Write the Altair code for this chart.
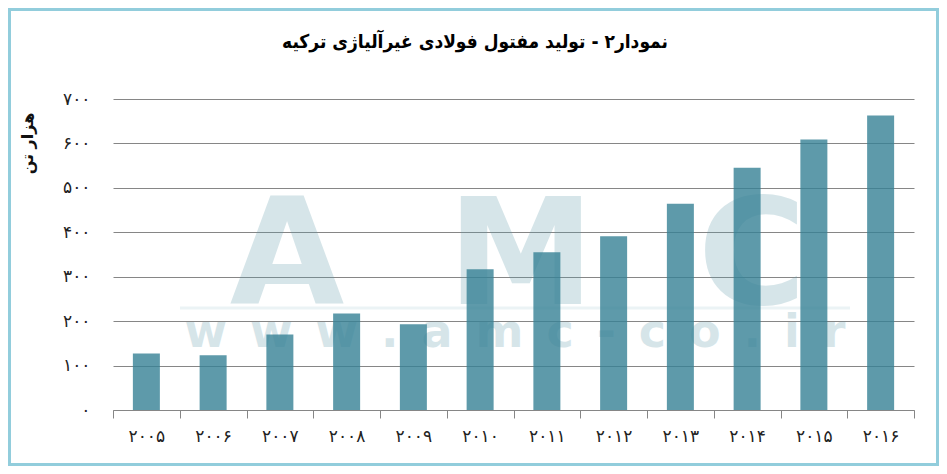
#%%
import pandas as pd
import altair as alt

#%%
# data (thousand tonnes)
years = ["۲۰۰۵", "۲۰۰۶", "۲۰۰۷", "۲۰۰۸", "۲۰۰۹", "۲۰۱۰",
         "۲۰۱۱", "۲۰۱۲", "۲۰۱۳", "۲۰۱۴", "۲۰۱۵", "۲۰۱۶"]
production = [127, 123, 170, 217, 193, 317, 355, 391, 464, 545, 609, 663]

y_ticks = [0, 100, 200, 300, 400, 500, 600, 700]
y_tick_labels = ["۰", "۱۰۰", "۲۰۰", "۳۰۰", "۴۰۰", "۵۰۰", "۶۰۰", "۷۰۰"]

title_text = "نمودار۲ - تولید مفتول فولادی غیرآلیاژی ترکیه"
y_title = "هزار تن"
mark_big = "A\u00a0\u00a0M\u00a0\u00a0C"
mark_small = "\u2002".join("www.amc-co.ir")

df = pd.DataFrame({"year": years, "production": production})
one = pd.DataFrame({"k": [0]})

FONT = "DejaVu Sans"
GRID = "#868686"
BAR = "#368195"

# persian tick labels
label_expr = " : ".join(
    f"datum.value == {v} ? '{l}'" for v, l in zip(y_ticks, y_tick_labels)
) + " : ''"

#%%
# frame, title and watermark
border = alt.Chart(one).mark_rect(
    fillOpacity=0, stroke="#92CDDC", strokeWidth=3
).encode(x=alt.value(-103.5), x2=alt.value(824.5),
         y=alt.value(-89.5), y2=alt.value(365.5))

title = alt.Chart(one).mark_text(
    text=title_text, font="DejaVu Sans Condensed", fontSize=19,
    fontWeight="bold", color="#000", align="center", baseline="middle"
).encode(x=alt.value(362), y=alt.value(-57))

wm_big = alt.Chart(one).mark_text(
    text=mark_big, font=FONT, fontWeight="bold", fontSize=148,
    color="#5E9AAA", opacity=0.25, align="center", baseline="alphabetic"
).encode(x=alt.value(405), y=alt.value(205))

wm_line = alt.Chart(one).mark_rule(
    color="#5E9AAA", opacity=0.12, strokeWidth=3
).encode(x=alt.value(67), x2=alt.value(737), y=alt.value(209))

wm_small = alt.Chart(one).mark_text(
    text=mark_small, font=FONT, fontWeight="bold", fontSize=46,
    color="#5E9AAA", opacity=0.25, align="center", baseline="alphabetic"
).encode(x=alt.value(402), y=alt.value(248))

#%%
bars = alt.Chart(df).mark_bar(size=27, color=BAR, opacity=0.8).encode(
    x=alt.X("year:N", sort=None,
            scale=alt.Scale(paddingInner=0, paddingOuter=0),
            axis=alt.Axis(title=None, tickBand="extent", tickSize=8,
                          tickColor=GRID, domainColor=GRID, labelAngle=0,
                          labelPadding=10, labelFont=FONT, labelFontSize=17,
                          labelColor="#222")),
    y=alt.Y("production:Q", scale=alt.Scale(domain=[0, 700]),
            axis=alt.Axis(values=y_ticks, labelExpr=label_expr, grid=True,
                          gridColor=GRID, domain=False, ticks=False,
                          labelPadding=23, labelFont=FONT, labelFontSize=17,
                          labelColor="#222",
                          title=y_title, titleFont=FONT, titleFontSize=16,
                          titleFontWeight="bold", titleColor="#111",
                          titleX=-86, titleY=44, titleAlign="center",
                          titleBaseline="middle")),
)

chart = (alt.layer(border, title, wm_big, wm_line, wm_small, bars)
.properties(width=801, height=311,
            autosize=alt.AutoSizeParams(type="none"),
            padding={"left": 105, "top": 91, "right": 25, "bottom": 56})
.configure_view(stroke=None))

chart.save("out.html", embed_options={"renderer": "svg", "actions": False})
